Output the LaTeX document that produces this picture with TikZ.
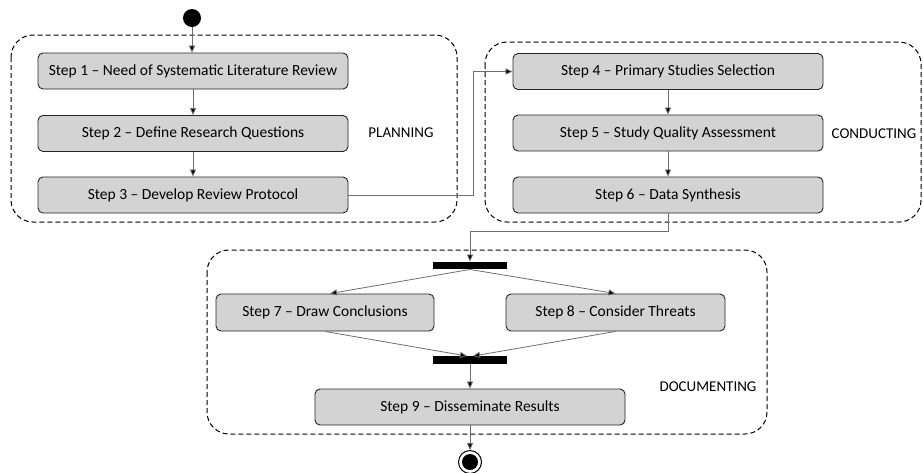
\documentclass[tikz,border=0pt]{standalone}
\usepackage{fontspec}
\setmainfont{Carlito}
\usetikzlibrary{arrows.meta,positioning}
\definecolor{boxfill}{RGB}{211,211,211}
\definecolor{conn}{RGB}{110,110,110}
\tikzset{
  stepbox/.style={draw=black!85, fill=boxfill, rounded corners=5pt, line width=0.9pt,
    minimum height=36pt, inner sep=0pt, font=\fontsize{15.5}{18}\selectfont},
  groupbox/.style={draw=black, dash pattern=on 5pt off 3pt, line width=1pt, rounded corners=22pt},
  bar/.style={fill=black, inner sep=0pt, minimum width=74pt, minimum height=7.5pt},
  conn/.style={draw=conn, line width=0.8pt, -{Triangle[length=7pt,width=6pt,fill=black]}},
  grouplabel/.style={font=\fontsize{15}{18}\selectfont}
}
\begin{document}
\begin{tikzpicture}[x=1pt,y=-1pt]
\useasboundingbox (0,0) rectangle (923,472);
% groups
\draw[groupbox] (11,35) rectangle (457,222);
\draw[groupbox] (485,42) rectangle (921,222);
\draw[groupbox] (207,250) rectangle (767,434);
\node[grouplabel] (lplan) at (401,133) {PLANNING};
\node[grouplabel] (lcond) at (874,134) {CONDUCTING};
\node[grouplabel] (ldoc) at (708,387) {DOCUMENTING};
% start / end
\node[circle, fill=black, minimum size=18pt, inner sep=0pt] (start) at (192,18) {};
\node[circle, draw=black, line width=1pt, fill=white, minimum size=23pt, inner sep=0pt] (end) at (470,462) {};
\node[circle, fill=black, minimum size=16pt, inner sep=0pt] (endin) at (470,462) {};
% steps
\node[stepbox, minimum width=310pt] (s1) at (193,71) {Step 1 -- Need of Systematic Literature Review};
\node[stepbox, minimum width=310pt] (s2) at (193,133.5) {Step 2 -- Define Research Questions};
\node[stepbox, minimum width=310pt] (s3) at (193,195) {Step 3 -- Develop Review Protocol};
\node[stepbox, minimum width=310pt] (s4) at (668,71.5) {Step 4 -- Primary Studies Selection};
\node[stepbox, minimum width=310pt] (s5) at (668,133) {Step 5 -- Study Quality Assessment};
\node[stepbox, minimum width=310pt] (s6) at (668,195) {Step 6 -- Data Synthesis};
\node[stepbox, minimum width=218pt, minimum height=37pt] (s7) at (325,312.5) {Step 7 -- Draw Conclusions};
\node[stepbox, minimum width=219pt, minimum height=37pt] (s8) at (615.5,312.5) {Step 8 -- Consider Threats};
\node[stepbox, minimum width=310pt] (s9) at (470,407) {Step 9 -- Disseminate Results};
% bars
\node[bar] (fork) at (470,265.5) {};
\node[bar] (join) at (470,360) {};
% connectors
\draw[conn] (start) -- (s1.north -| start);
\draw[conn] (s1) -- (s2);
\draw[conn] (s2) -- (s3);
\draw[conn] (s3.east) -- ++(125,0) |- (s4.west);
\draw[conn] (s4) -- (s5);
\draw[conn] (s5) -- (s6);
\draw[conn] (s6.south) -- ++(0,18) -| (fork.north);
\draw[conn] (fork.south) -- ([xshift=5pt]s7.north);
\draw[conn] (fork.south) -- (s8.north);
\draw[conn] (s7.south) -- ([xshift=-3pt]join.north);
\draw[conn] (s8.south) -- ([xshift=3pt]join.north);
\draw[conn] (join.south) -- (s9.north);
\draw[conn] (s9.south) -- (end.north);
\end{tikzpicture}
\end{document}
